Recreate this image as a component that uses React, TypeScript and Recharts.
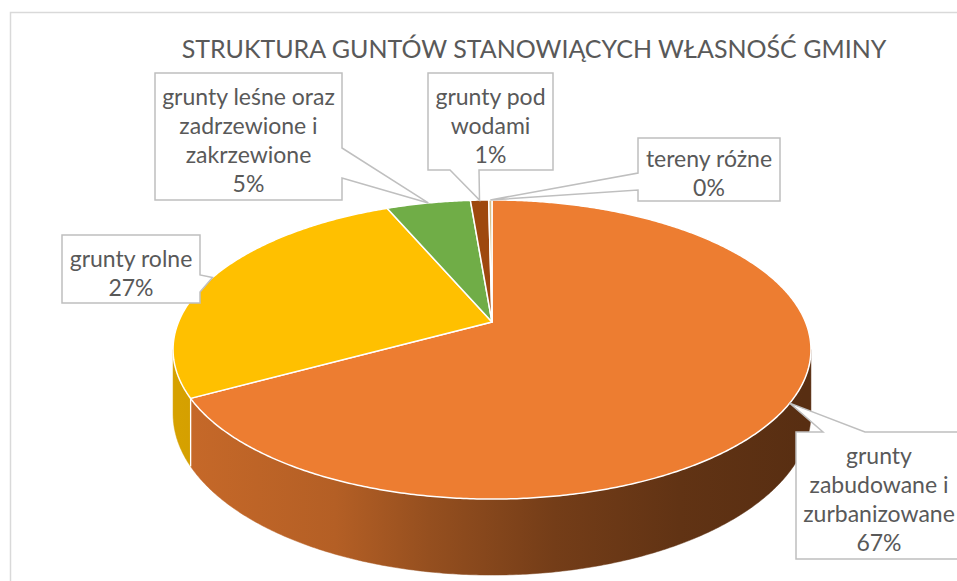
import React from 'react';
import { PieChart, Pie, Cell } from 'recharts';

// ---------- data ----------
const chartTitle = 'STRUKTURA GUNTÓW STANOWIĄCYCH WŁASNOŚĆ GMINY';
const categories = [
  'grunty zabudowane i zurbanizowane',
  'grunty rolne',
  'grunty leśne oraz zadrzewione i zakrzewione',
  'grunty pod wodami',
  'tereny różne',
];
const shares = [67.0, 26.6, 5.1, 1.1, 0.2];
const labelLines = [
  ['grunty', 'zabudowane i', 'zurbanizowane'],
  ['grunty rolne'],
  ['grunty leśne oraz', 'zadrzewione i', 'zakrzewione'],
  ['grunty pod', 'wodami'],
  ['tereny różne'],
];
const sliceColors = ['#ED7D31', '#FFC000', '#70AD47', '#9E480E', '#D8BE86'];

// ---------- layout / style ----------
const FONT = 'Lato, "Open Sans", sans-serif';
const TEXT_COLOR = '#595959';
const BOX_STROKE = '#BFBFBF';
const TILT = 144.5 / 313.5;
const PERSP = 0.184;
const DEPTH = 62 / 313.5;
const ALPHA = (Math.asin(PERSP) * 180) / Math.PI;
const LINE_H = 29;

type Side = 'top' | 'right' | 'bottom' | 'left';
const calloutLayout: { x: number; y: number; w: number; h: number; side: Side; b1: number; b2: number }[] = [
  { x: 796, y: 432, w: 166, h: 127, side: 'top', b1: 823, b2: 865 },
  { x: 62, y: 235, w: 138, h: 68, side: 'right', b1: 275, b2: 292 },
  { x: 155, y: 73, w: 187, h: 127, side: 'right', b1: 148, b2: 178 },
  { x: 428, y: 73, w: 125, h: 97, side: 'bottom', b1: 450, b2: 479 },
  { x: 638, y: 138, w: 142, h: 63, side: 'left', b1: 173, b2: 190 },
];

const data = categories.map((name, i) => ({ name, value: shares[i], idx: i, color: sliceColors[i] }));

// ---------- 3D projection helpers ----------
function project(cx: number, cy: number, r: number, angleDeg: number, drop: number): [number, number] {
  const rad = (angleDeg * Math.PI) / 180;
  const u = Math.cos(rad);
  const v = -Math.sin(rad);
  const w = 1 - PERSP * v;
  return [cx + (r * u) / w, cy + (r * TILT * v) / w + (drop * r * DEPTH) / w];
}

function arcPoints(cx: number, cy: number, r: number, a1: number, a2: number, drop: number) {
  const n = Math.max(2, Math.ceil(Math.abs(a2 - a1) / 0.5) + 1);
  const pts: [number, number][] = [];
  for (let i = 0; i < n; i++) {
    const a = a1 + ((a2 - a1) * i) / (n - 1);
    pts.push(project(cx, cy, r, a, drop));
  }
  return pts;
}

const ptsToPath = (pts: [number, number][]) => pts.map((p) => `L${p[0].toFixed(2)},${p[1].toFixed(2)}`).join(' ');

function shade(hex: string, s: number) {
  const n = parseInt(hex.slice(1), 16);
  const r = Math.round(((n >> 16) & 255) * s);
  const g = Math.round(((n >> 8) & 255) * s);
  const b = Math.round((n & 255) * s);
  return `rgb(${r},${g},${b})`;
}

const SIDE_STOPS: [number, number][] = [
  [0, 0.84],
  [0.25, 0.76],
  [0.4, 0.63],
  [0.6, 0.49],
  [0.8, 0.41],
  [1, 0.37],
];

const SideWall = (props: any) => {
  const { cx, cy, outerRadius: r, startAngle, endAngle, payload } = props;
  const idx = payload?.idx ?? props.idx ?? props.index ?? 0;
  const color = props.fill && props.fill !== 'none' ? props.fill : sliceColors[idx];
  const lo = Math.min(startAngle, endAngle);
  const hi = Math.max(startAngle, endAngle);
  const segs: [number, number][] = [];
  for (const n of [-1, 0, 1]) {
    const a = Math.max(lo, -180 + ALPHA + 360 * n);
    const b = Math.min(hi, -ALPHA + 360 * n);
    if (b > a) segs.push([a, b]);
  }
  if (!segs.length) return <g />;
  const gid = `side-grad-${idx}`;
  return (
    <g>
      <defs>
        <linearGradient id={gid} gradientUnits="userSpaceOnUse" x1={cx - r} y1={0} x2={cx + r} y2={0}>
          {SIDE_STOPS.map(([o, s]) => (
            <stop key={o} offset={o} stopColor={shade(color, s)} />
          ))}
        </linearGradient>
      </defs>
      {segs.map(([a, b], k) => {
        const top = arcPoints(cx, cy, r, a, b, 0);
        const bot = arcPoints(cx, cy, r, b, a, 1);
        const d = `M${top[0][0]},${top[0][1]} ${ptsToPath(top)} ${ptsToPath(bot)} Z`;
        const edges: number[] = [];
        if (Math.abs(a - lo) < 1e-6) edges.push(a);
        if (Math.abs(b - hi) < 1e-6) edges.push(b);
        return (
          <g key={k}>
            <path d={d} fill={`url(#${gid})`} stroke={`url(#${gid})`} strokeWidth={0.5} />
            {edges.map((e) => {
              const p1 = project(cx, cy, r, e, 0);
              const p2 = project(cx, cy, r, e, 1);
              return <line key={e} x1={p1[0]} y1={p1[1]} x2={p2[0]} y2={p2[1]} stroke="#fff" strokeWidth={1.2} />;
            })}
          </g>
        );
      })}
    </g>
  );
};

const TopFace = (props: any) => {
  const { cx, cy, outerRadius: r, startAngle, endAngle, payload } = props;
  const idx = payload?.idx ?? props.idx ?? props.index ?? 0;
  const color = props.fill && props.fill !== 'none' ? props.fill : sliceColors[idx];
  const pts = arcPoints(cx, cy, r, startAngle, endAngle, 0);
  const d = `M${cx},${cy} ${ptsToPath(pts)} Z`;
  return <path d={d} fill={color} stroke="#ffffff" strokeWidth={1.5} strokeLinejoin="round" />;
};

const Callout = (props: any) => {
  const { cx, cy, outerRadius, midAngle, index, percent } = props;
  const L = calloutLayout[index];
  if (!L) return null;
  const [tx, ty] = project(cx, cy, outerRadius, midAngle, 0);
  const { x, y, w, h, side, b1, b2 } = L;
  let d = '';
  if (side === 'top') d = `M${x},${y} L${b1},${y} L${tx},${ty} L${b2},${y} L${x + w},${y} L${x + w},${y + h} L${x},${y + h} Z`;
  else if (side === 'right') d = `M${x},${y} L${x + w},${y} L${x + w},${b1} L${tx},${ty} L${x + w},${b2} L${x + w},${y + h} L${x},${y + h} Z`;
  else if (side === 'bottom') d = `M${x},${y} L${x + w},${y} L${x + w},${y + h} L${b2},${y + h} L${tx},${ty} L${b1},${y + h} L${x},${y + h} Z`;
  else d = `M${x},${y} L${x + w},${y} L${x + w},${y + h} L${x},${y + h} L${x},${b2} L${tx},${ty} L${x},${b1} Z`;
  const lines = [...labelLines[index], `${Math.round(percent * 100)}%`];
  const centerY = y + h / 2 + 3;
  const firstY = centerY - ((lines.length - 1) * LINE_H) / 2;
  return (
    <g>
      <path d={d} fill="#ffffff" stroke={BOX_STROKE} strokeWidth={1.5} strokeLinejoin="miter" />
      <text textAnchor="middle" fill={TEXT_COLOR} fontFamily={FONT} fontSize={23} stroke="none">
        {lines.map((ln, j) => (
          <tspan key={j} x={x + w / 2} y={firstY + j * LINE_H} dominantBaseline="central">
            {ln}
          </tspan>
        ))}
      </text>
    </g>
  );
};

export default function App() {
  const W = 957;
  const H = 581;
  const CX = 492;
  const CY = 322;
  const R = 313.5;
  return (
    <div style={{ position: 'absolute', left: 0, top: 0, width: W, height: H, background: '#fff', overflow: 'hidden' }}>
      <svg width={W} height={H} style={{ position: 'absolute', left: 0, top: 0 }}>
        <rect x={10.5} y={12.5} width={1000} height={700} fill="#fff" stroke="#D9D9D9" strokeWidth={1.5} />
        <text x={534} y={48} textAnchor="middle" dominantBaseline="central" fill={TEXT_COLOR} fontFamily={FONT} fontSize={25}>
          {chartTitle}
        </text>
      </svg>
      <div style={{ position: 'absolute', left: 0, top: 0 }}>
        <PieChart width={W} height={H} margin={{ top: 0, right: 0, bottom: 0, left: 0 }}>
          <Pie
            data={data}
            dataKey="value"
            nameKey="name"
            cx={CX}
            cy={CY}
            outerRadius={R}
            startAngle={90}
            endAngle={-270}
            isAnimationActive={false}
            shape={SideWall}
            activeShape={SideWall}
            inactiveShape={SideWall}
            stroke="none"
          >
            {data.map((d) => (
              <Cell key={d.name} fill={d.color} />
            ))}
          </Pie>
          <Pie
            data={data}
            dataKey="value"
            nameKey="name"
            cx={CX}
            cy={CY}
            outerRadius={R}
            startAngle={90}
            endAngle={-270}
            isAnimationActive={false}
            shape={TopFace}
            activeShape={TopFace}
            inactiveShape={TopFace}
            label={Callout}
            labelLine={false}
            stroke="#fff"
          >
            {data.map((d) => (
              <Cell key={d.name} fill={d.color} />
            ))}
          </Pie>
        </PieChart>
      </div>
    </div>
  );
}
